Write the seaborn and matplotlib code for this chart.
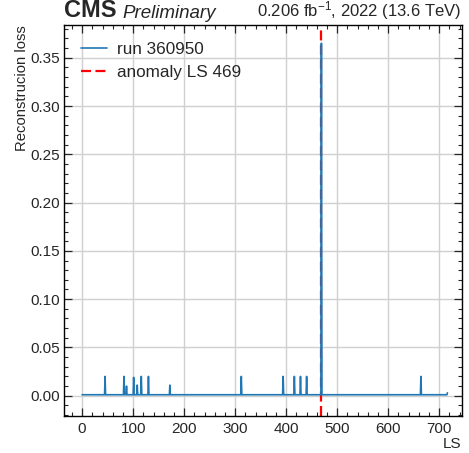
import numpy as np
import pandas as pd
import matplotlib
matplotlib.use("Agg")
import matplotlib.pyplot as plt
import seaborn as sns
from matplotlib.ticker import MultipleLocator

# ---- data ----
ls_first, ls_last = 0, 716
baseline_loss = 0.001
spike_ls = [45, 82, 87, 101, 108, 116, 130, 172, 312, 394, 416, 428, 440, 469, 664, 716]
spike_loss = [0.020, 0.020, 0.010, 0.019, 0.011, 0.020, 0.020, 0.011, 0.020, 0.020,
              0.020, 0.020, 0.020, 0.365, 0.020, 0.003]
anomaly_ls = 469
run_label = "run 360950"
anomaly_label = "anomaly LS 469"
x_ticks = [0, 100, 200, 300, 400, 500, 600, 700]
y_ticks = [0.00, 0.05, 0.10, 0.15, 0.20, 0.25, 0.30, 0.35]

ls_values = np.arange(ls_first, ls_last + 1)
loss_values = np.full(ls_values.shape, baseline_loss)
for s, v in zip(spike_ls, spike_loss):
    loss_values[ls_values == s] = v
df = pd.DataFrame({"LS": ls_values, "loss": loss_values})

# ---- style ----
sns.set_style("ticks")
plt.rcParams["font.family"] = ["Liberation Sans", "DejaVu Sans"]
plt.rcParams["mathtext.fontset"] = "custom"
plt.rcParams["mathtext.rm"] = "Liberation Sans"
plt.rcParams["mathtext.it"] = "Liberation Sans:italic"

fig = plt.figure(figsize=(4.69, 4.53), dpi=100)
ax = fig.add_axes([0.137, 0.0817, 0.8475, 0.8623])

sns.lineplot(data=df, x="LS", y="loss", ax=ax, color="#1f77b4", linewidth=1.2,
             label=run_label, zorder=3)
ax.axvline(anomaly_ls, color="red", linestyle=(0, (4.5, 2)), linewidth=1.6,
           label=anomaly_label, zorder=2.5)

ax.set_xlim(-35, 744)
ax.set_ylim(-0.021, 0.3835)
ax.set_xticks(x_ticks)
ax.set_yticks(y_ticks)
ax.set_xticklabels([str(t) for t in x_ticks])
ax.set_yticklabels([f"{t:.2f}" for t in y_ticks])
ax.xaxis.set_minor_locator(MultipleLocator(20))
ax.yaxis.set_minor_locator(MultipleLocator(0.01))
ax.tick_params(which="both", direction="in", top=True, right=True, labelsize=11)
ax.tick_params(which="major", length=6, width=0.9)
ax.tick_params(which="minor", length=3, width=0.8)
ax.tick_params(axis="x", pad=4)
ax.tick_params(axis="y", pad=3)
ax.grid(True, which="major", color="#d0d0d0", linewidth=1.0)
for sp in ax.spines.values():
    sp.set_linewidth(1.0)
    sp.set_color("black")

ax.set_xlabel("LS", loc="right", fontsize=11, labelpad=1)
ax.set_ylabel("Reconstrucion loss", loc="top", fontsize=10.7)
ax.yaxis.set_label_coords(-0.089, 1.0)

leg = ax.legend(loc="upper left", frameon=False, fontsize=12.3,
                handlelength=1.5, handletextpad=0.6, borderaxespad=0.6,
                labelspacing=0.45)

# header texts
ax.text(0.0, 1.008, "CMS", transform=ax.transAxes, fontsize=17, fontweight="bold",
        ha="left", va="bottom")
ax.text(0.146, 1.008, "Preliminary", transform=ax.transAxes, fontsize=13.5,
        style="italic", ha="left", va="bottom")
ax.text(1.0, 1.008, r"0.206 fb$^{-1}$, 2022 (13.6 TeV)", transform=ax.transAxes,
        fontsize=12, ha="right", va="bottom")

fig.savefig("out.png", dpi=100)
